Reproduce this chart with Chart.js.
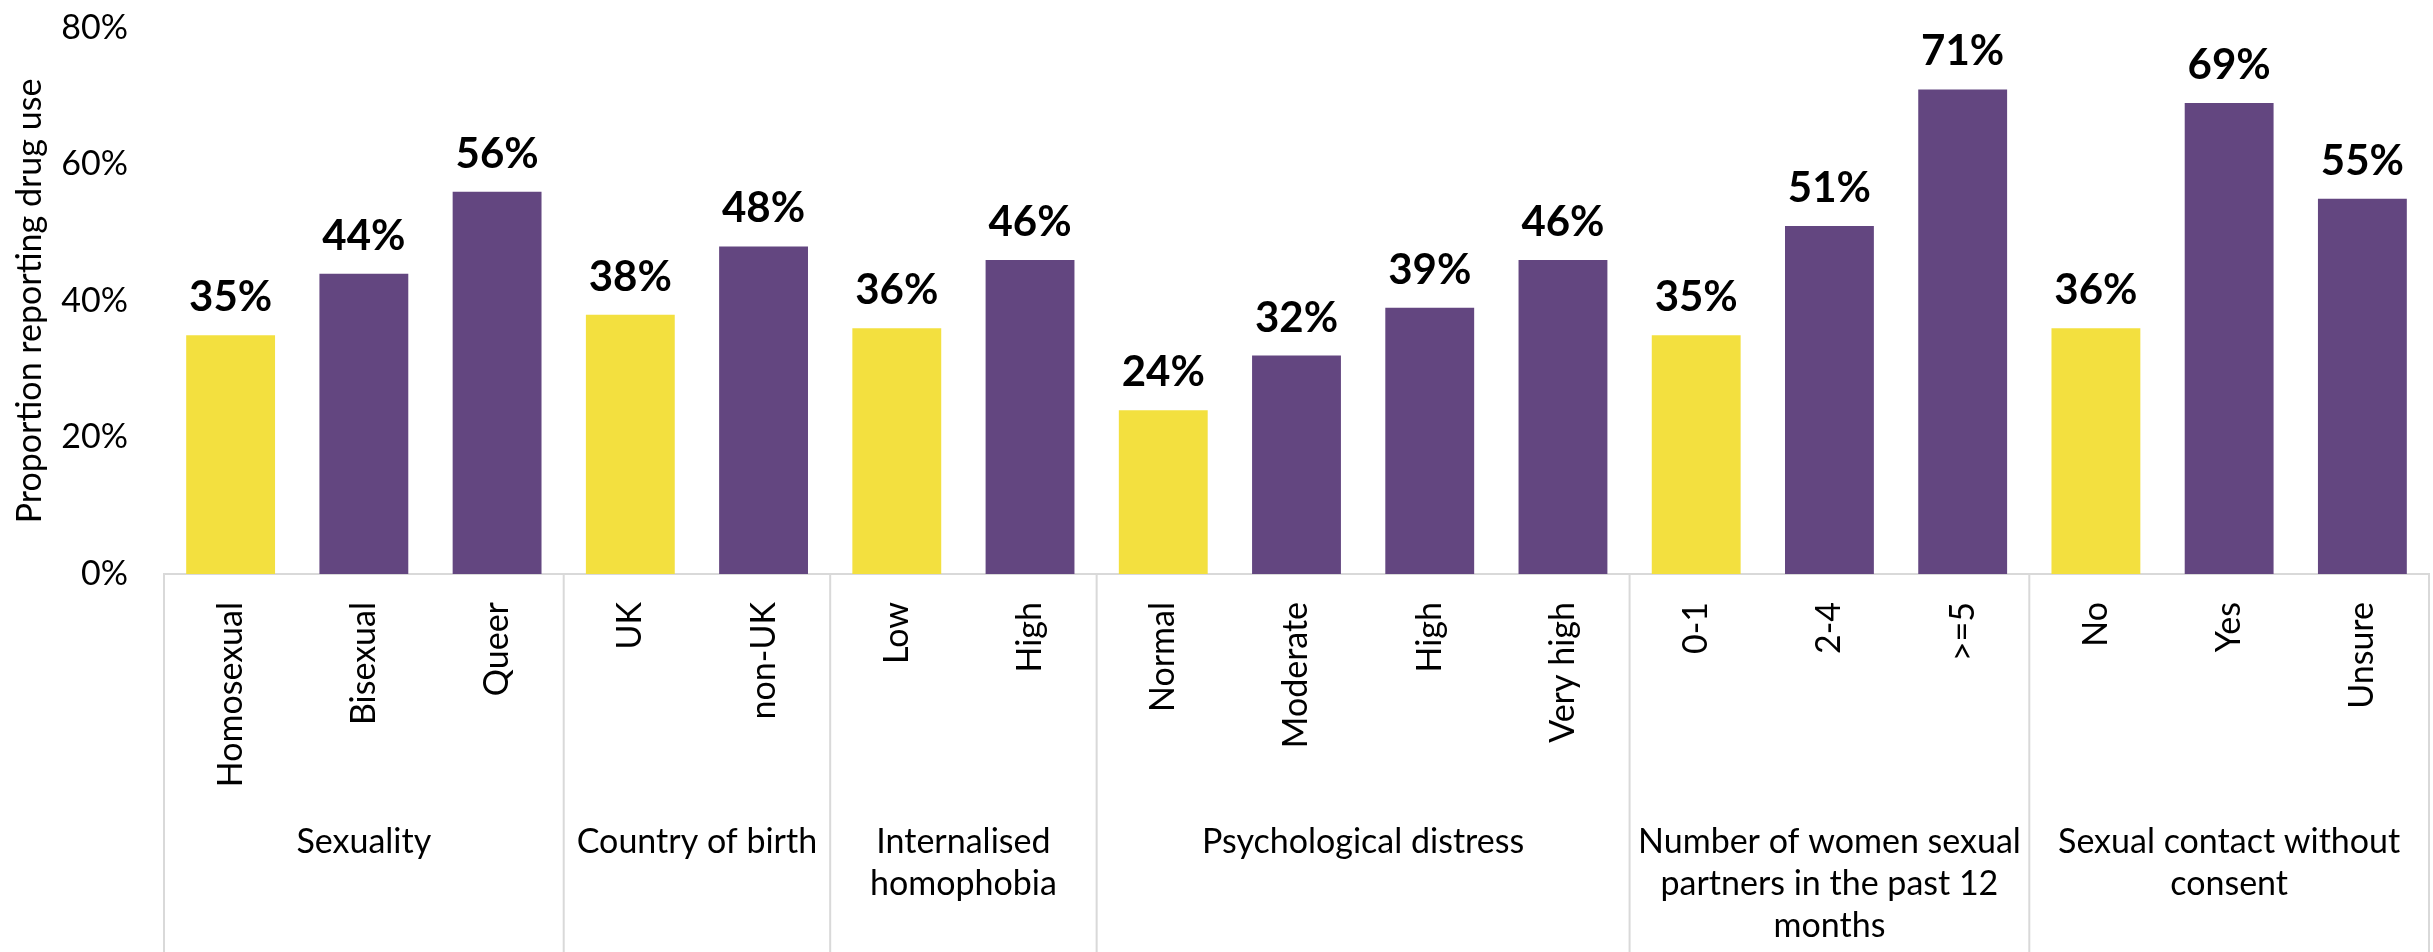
<!DOCTYPE html>
<html>
<head>
<meta charset="utf-8">
<script src="https://cdn.jsdelivr.net/npm/chart.js@4.4.1/dist/chart.umd.min.js"></script>
<style>
    html, body { margin: 0; padding: 0; background: #ffffff; }
    #wrap { width: 2433px; height: 952px; position: relative; }
</style>
</head>
<body>
<div id="wrap"><canvas id="chartDrugUse"></canvas></div>
<script>
/**
 * Categories
 */
const categories = ['Homosexual', 'Bisexual', 'Queer', 'UK', 'non-UK', 'Low', 'High', 'Normal', 'Moderate', 'High', 'Very high', '0-1', '2-4', '>=5', 'No', 'Yes', 'Unsure'];

/**
 * Groups (one line per entry)
 */
const groupNames = [['Sexuality'], ['Country of birth'], ['Internalised', 'homophobia'], ['Psychological distress'], ['Number of women sexual', 'partners in the past 12', 'months'], ['Sexual contact without', 'consent']];
const groupSizes = [3, 2, 2, 4, 3, 3];

/**
 * Proportion reporting drug use (%)
 */
const drugUse = [35, 44, 56, 38, 48, 36, 46, 24, 32, 39, 46, 35, 51, 71, 36, 69, 55];

/**
 * Y ticks
 */
const yTicks = [0, 20, 40, 60, 80];

/**
 * Colours: first category of each group is the reference
 */
const yellow = '#F3E03F';
const purple = '#634680';
const starts = groupSizes.reduce((acc, n, i) => acc.concat(i ? acc[i - 1] + groupSizes[i - 1] : 0), []);
const colours = categories.map((c, i) => starts.includes(i) ? yellow : purple);

const font = 'Lato';

/**
 * Value labels above bars
 */
const barLabels = {
    id: 'barLabels',
    afterDatasetsDraw(chart) {
        const ctx = chart.ctx;
        ctx.save();
        ctx.font = 'bold 42px ' + font;
        ctx.fillStyle = '#000';
        ctx.textAlign = 'center';
        ctx.textBaseline = 'alphabetic';
        chart.getDatasetMeta(0).data.forEach((bar, i) => {
            ctx.fillText(drugUse[i] + '%', bar.x, bar.y - 24);
        });
        ctx.restore();
    }
};

/**
 * Group boxes and labels under the axis
 */
const groupAxis = {
    id: 'groupAxis',
    afterDraw(chart) {
        const ctx = chart.ctx;
        const x = chart.scales.x;
        const area = chart.chartArea;
        const edges = [area.left];
        starts.slice(1).forEach(s => {
            edges.push((x.getPixelForValue(s - 1) + x.getPixelForValue(s)) / 2);
        });
        edges.push(area.right);

        ctx.save();
        ctx.strokeStyle = '#d9d9d9';
        ctx.lineWidth = 2;
        edges.forEach(e => {
            ctx.beginPath();
            ctx.moveTo(e, x.top);
            ctx.lineTo(e, chart.height);
            ctx.stroke();
        });

        ctx.font = '34px ' + font;
        ctx.fillStyle = '#000';
        ctx.textAlign = 'center';
        ctx.textBaseline = 'alphabetic';
        groupNames.forEach((lines, g) => {
            const cx = (edges[g] + edges[g + 1]) / 2;
            lines.forEach((line, k) => {
                ctx.fillText(line, cx, x.top + 279 + k * 42);
            });
        });
        ctx.restore();
    }
};

/**
 * Chart
 */
new Chart(document.getElementById('chartDrugUse'), {
    type: 'bar',
    data: {
        labels: categories,
        datasets: [
            {
                label: 'Proportion reporting drug use',
                backgroundColor: colours,
                data: drugUse,
                categoryPercentage: 1,
                barPercentage: 0.667
            }
        ]
    },
    options: {
        responsive: true,
        maintainAspectRatio: false,
        animation: false,
        layout: { padding: { top: 28, right: 4, left: 0, bottom: 0 } },
        plugins: {
            legend: { display: false },
            tooltip: { enabled: false }
        },
        scales: {
            x: {
                afterFit: s => { s.height = 378; s.paddingTop = 0; },
                grid: { display: false, drawTicks: false },
                border: { color: '#d9d9d9', width: 2 },
                ticks: {
                    minRotation: 90,
                    maxRotation: 90,
                    autoSkip: false,
                    padding: 28,
                    color: '#000',
                    font: { family: font, size: 34 }
                }
            },
            y: {
                min: 0,
                max: 80,
                afterFit: s => { s.width = 164; s.paddingTop = 0; s.paddingBottom = 0; },
                afterBuildTicks: s => { s.ticks = yTicks.map(v => ({ value: v })); },
                grid: { display: false, drawTicks: false },
                border: { display: false },
                ticks: {
                    padding: 36,
                    color: '#000',
                    font: { family: font, size: 34 },
                    callback: v => v + '%'
                },
                title: {
                    display: true,
                    text: 'Proportion reporting drug use',
                    color: '#000',
                    font: { family: font, size: 34 },
                    padding: { top: 10, bottom: 0 }
                }
            }
        }
    },
    plugins: [barLabels, groupAxis]
});
</script>
</body>
</html>
